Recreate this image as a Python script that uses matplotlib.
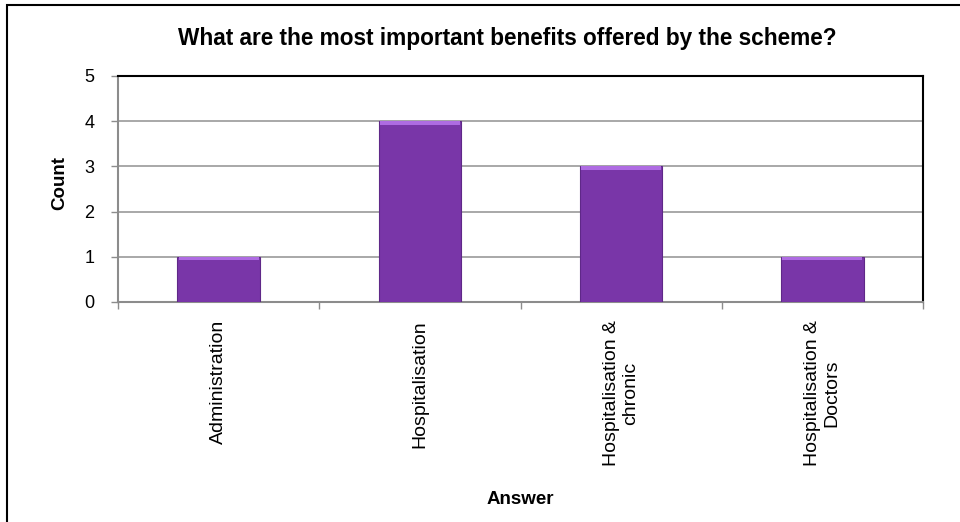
import matplotlib
matplotlib.use("Agg")
import matplotlib.pyplot as plt
from matplotlib.patches import Rectangle
import numpy as np

categories = ["Administration", "Hospitalisation", "Hospitalisation &\nchronic", "Hospitalisation &\nDoctors"]
counts = [1, 4, 3, 1]
y_ticks = [0, 1, 2, 3, 4, 5]
title = "What are the most important benefits offered by the scheme?"
x_label = "Answer"
y_label = "Count"

plt.rcParams['font.family'] = ['Liberation Sans', 'DejaVu Sans']

fig = plt.figure(figsize=(9.6, 5.22), dpi=100)
ax = fig.add_axes([118/960, 1-302/522, (923-118)/960, (302-76)/522])

x = np.arange(len(categories))
bar_w = 0.41
main_c = "#7936A8"
ax.bar(x, counts, width=bar_w, color=main_c, edgecolor="#5F2888", linewidth=0.8, zorder=3)
band = 0.08
ax.bar(x, [band]*len(counts), bottom=[c - band for c in counts], width=bar_w*0.97,
       color="#AE6BE2", linewidth=0, zorder=4)

ax.set_xlim(-0.5, len(categories) - 0.5)
ax.set_ylim(0, 5)
ax.set_yticks(y_ticks)
ax.set_yticklabels([str(t) for t in y_ticks], fontsize=13)
ax.yaxis.grid(True, color="#9a9a9a", linewidth=1.2, zorder=0)
ax.set_axisbelow(True)

ax.set_xticks(x)
ax.set_xticklabels(categories, rotation=90, fontsize=14, ha='center', va='top',
                   multialignment='center')
ax.tick_params(axis='x', which='major', length=0, pad=13)
ax.set_xticks(np.arange(-0.5, len(categories)), minor=True)
ax.tick_params(axis='x', which='minor', length=5, color="#8c8c8c", width=1)
ax.tick_params(axis='y', length=5, color="#8c8c8c", width=1, pad=12)

for s in ['left', 'bottom']:
    ax.spines[s].set_color("#8c8c8c")
    ax.spines[s].set_linewidth(1.5)
for s in ['top', 'right']:
    ax.spines[s].set_color("black")
    ax.spines[s].set_linewidth(1.5)

fig.text(507/960, 1-38/522, title, ha='center', va='center', fontsize=16.3, fontweight='bold')
fig.text(520/960, 1-500/522, x_label, ha='center', va='center', fontsize=13.5, fontweight='bold')
fig.text(60/960, 1-183/522, y_label, ha='center', va='center', rotation=90, fontsize=13.5, fontweight='bold')

fig.patches.append(Rectangle((7/960, -0.1), 1.2, 1.1 - 5/522, transform=fig.transFigure,
                             fill=False, edgecolor='black', linewidth=1.5))

fig.savefig("out.png", dpi=100)
